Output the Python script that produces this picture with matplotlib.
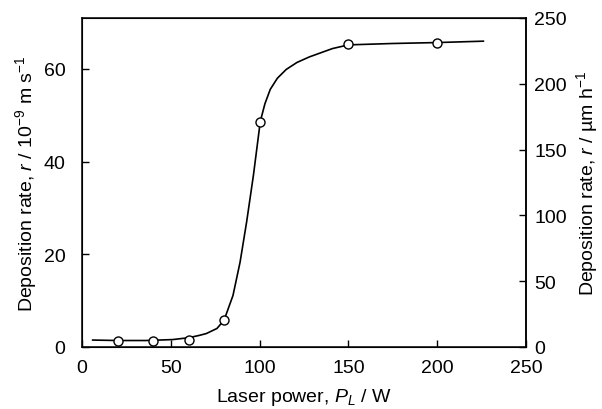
import matplotlib
matplotlib.use("Agg")
import matplotlib.pyplot as plt

# measured points
power = [20, 40, 60, 80, 100, 150, 200]
rate = [1.3, 1.3, 1.5, 5.9, 48.6, 65.3, 65.6]

# fitted curve
curve_x = [6, 20, 36, 51, 60, 66, 70, 76, 80, 85, 89, 92.7, 96.5, 98.5, 100.4,
           103, 106, 110, 115, 121, 128, 141, 150, 175, 200, 226]
curve_y = [1.5, 1.4, 1.4, 1.6, 2.0, 2.5, 2.9, 4.0, 5.8, 11.1, 18.3, 27.0, 37.0,
           43.0, 48.7, 52.5, 55.6, 58.0, 59.9, 61.4, 62.6, 64.4, 65.2, 65.5, 65.7, 66.0]

x_ticks = [0, 50, 100, 150, 200, 250]
left_ticks = [0, 20, 40, 60]
right_ticks = [0, 50, 100, 150, 200, 250]

plt.rcParams['font.family'] = ['Liberation Sans', 'DejaVu Sans']
plt.rcParams['mathtext.fontset'] = 'custom'
plt.rcParams['mathtext.rm'] = 'Liberation Sans'
plt.rcParams['mathtext.it'] = 'Liberation Sans:italic'
plt.rcParams['mathtext.default'] = 'regular'

tfs = 14
lfs = 14
fig = plt.figure(figsize=(6.02, 4.10), dpi=100)
ax = fig.add_axes([82/602, 62/410, 444/602, 329/410])
ax.plot(curve_x, curve_y, color='black', lw=1.2, zorder=2)
ax.plot(power, rate, 'o', ms=6.5, mfc='white', mec='black', mew=1.0, zorder=3)

ax.set_xlim(0, 250)
ax.set_ylim(0, 71)
ax.set_xticks(x_ticks)
ax.set_yticks(left_ticks)
ax.tick_params(axis='x', direction='in', length=5, width=1, labelsize=tfs, top=False, pad=9)
ax.tick_params(axis='y', direction='in', length=5, width=1, labelsize=tfs, right=False, pad=12)
for s in ax.spines.values():
    s.set_linewidth(1.1)

ax2 = ax.twinx()
ax2.set_ylim(0, 250)
ax2.set_yticks(right_ticks)
ax2.tick_params(direction='in', length=5, width=1, labelsize=tfs, pad=6)
ax2.spines['right'].set_linewidth(1.1)

ax.set_xlabel('Laser power, $\\mathit{P_L}$ / W', fontsize=lfs, labelpad=7)
ax.set_ylabel('Deposition rate, $\\mathit{r}$ / 10$^{-9}$ m s$^{-1}$', fontsize=lfs, labelpad=3)
ax2.set_ylabel('Deposition rate, $\\mathit{r}$ / µm h$^{-1}$', fontsize=lfs, labelpad=5)

fig.savefig('out.png', dpi=100)
